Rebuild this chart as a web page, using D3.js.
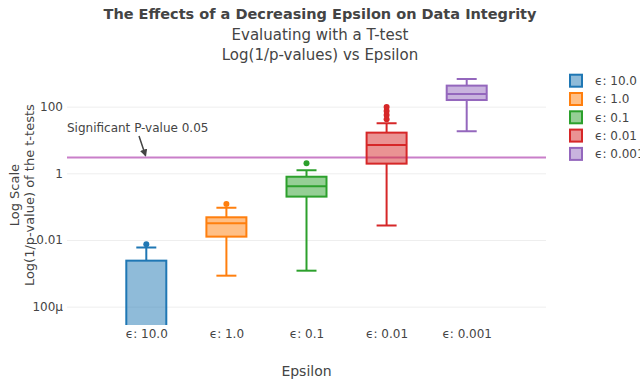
<!DOCTYPE html>
<html><head><meta charset="utf-8">
<script src="https://cdn.jsdelivr.net/npm/d3@7"></script>
<style>
html,body{margin:0;padding:0;background:#fff;}
svg text{font-family:Verdana,"DejaVu Sans",sans-serif;fill:#444;}
</style></head>
<body><svg id="c" width="640" height="384"></svg>
<script>
const categories = ["ϵ: 10.0","ϵ: 1.0","ϵ: 0.1","ϵ: 0.01","ϵ: 0.001"];
const lowerWhisker = [1e-12, 0.00085, 0.0012, 0.027, 18.3];
const q1 = [1e-8, 0.0126, 0.2, 1.95, 158];
const median = [1e-6, 0.032, 0.41, 7.1, 240];
const q3 = [0.0024, 0.048, 0.79, 16.6, 427];
const upperWhisker = [0.006, 0.093, 1.23, 31.6, 676];
const outliers = [[0.0075],[0.12],[2.0],[42,56,74,97],[]];
const colors = ["#1f77b4","#ff7f0e","#2ca02c","#d62728","#9467bd"];
const threshold = Math.log(1/0.05);
const yTickValues = [1e-4, 0.01, 1, 100];
const yTickLabels = ["100µ","0.01","1","100"];
const titleLines = ["The Effects of a Decreasing Epsilon on Data Integrity","Evaluating with a T-test","Log(1/p-values) vs Epsilon"];

const svg = d3.select("#c");
const L = 67, R = 546, T = 73.3, B = 325;
const x = d3.scalePoint().domain(categories).range([L, R]).padding(0.99);
const y = d3.scaleLog().domain([Math.pow(10,-4.55), 1000]).range([B, T]);

// grid
const yAxis = d3.axisLeft(y).tickValues(yTickValues).tickFormat((d,i)=>yTickLabels[i]).tickSize(-(R-L)).tickPadding(4);
const ga = svg.append("g").attr("transform",`translate(${L},0)`).call(yAxis);
ga.select(".domain").remove();
ga.selectAll(".tick line").attr("stroke","#eee").attr("stroke-width",1);
ga.selectAll(".tick text").attr("font-size",12).attr("fill","#444");

const xAxis = d3.axisBottom(x).tickSize(0).tickPadding(4);
const gx = svg.append("g").attr("transform",`translate(0,${B})`).call(xAxis);
gx.select(".domain").remove();
gx.selectAll(".tick text").attr("font-size",12).attr("fill","#444");

// clip
svg.append("clipPath").attr("id","clip").append("rect").attr("x",L).attr("y",T-10).attr("width",R-L).attr("height",B-T+10);
const plot = svg.append("g").attr("clip-path","url(#clip)");

// significance line
plot.append("line").attr("x1",L).attr("x2",R).attr("y1",y(threshold)).attr("y2",y(threshold))
  .attr("stroke","#c97fc9").attr("stroke-width",2);

const bw = 40;
categories.forEach((c,i)=>{
  const cx = x(c), col = colors[i];
  const g = plot.append("g");
  g.append("line").attr("x1",cx).attr("x2",cx).attr("y1",y(upperWhisker[i])).attr("y2",y(q3[i])).attr("stroke",col).attr("stroke-width",2);
  g.append("line").attr("x1",cx).attr("x2",cx).attr("y1",y(q1[i])).attr("y2",y(lowerWhisker[i])).attr("stroke",col).attr("stroke-width",2);
  g.append("line").attr("x1",cx-bw/4).attr("x2",cx+bw/4).attr("y1",y(upperWhisker[i])).attr("y2",y(upperWhisker[i])).attr("stroke",col).attr("stroke-width",2);
  g.append("line").attr("x1",cx-bw/4).attr("x2",cx+bw/4).attr("y1",y(lowerWhisker[i])).attr("y2",y(lowerWhisker[i])).attr("stroke",col).attr("stroke-width",2);
  const yTop = y(q3[i]), yBot = Math.min(y(q1[i]), B+20);
  g.append("rect").attr("x",cx-bw/2).attr("y",yTop).attr("width",bw).attr("height",yBot-yTop)
    .attr("fill",col).attr("fill-opacity",0.5).attr("stroke",col).attr("stroke-width",2);
  g.append("line").attr("x1",cx-bw/2).attr("x2",cx+bw/2).attr("y1",y(median[i])).attr("y2",y(median[i])).attr("stroke",col).attr("stroke-width",2);
  outliers[i].forEach(v=>{
    g.append("circle").attr("cx",cx).attr("cy",y(v)).attr("r",3).attr("fill",col);
  });
});

// annotation
svg.append("text").attr("x",L).attr("y",132).attr("font-size",12).text("Significant P-value 0.05");
svg.append("defs").append("marker").attr("id","ah").attr("viewBox","0 0 10 10").attr("refX",8).attr("refY",5)
  .attr("markerWidth",5).attr("markerHeight",5).attr("orient","auto")
  .append("path").attr("d","M0,0 L10,5 L0,10 z").attr("fill","#444");
svg.append("line").attr("x1",139).attr("y1",136).attr("x2",145.5).attr("y2",y(threshold)-2)
  .attr("stroke","#444").attr("stroke-width",1.5).attr("marker-end","url(#ah)");

// titles
svg.append("text").attr("x",320).attr("y",19).attr("text-anchor","middle").attr("font-size",14.5).attr("font-weight","bold").text(titleLines[0]);
svg.append("text").attr("x",320).attr("y",40).attr("text-anchor","middle").attr("font-size",15).text(titleLines[1]);
svg.append("text").attr("x",320).attr("y",60).attr("text-anchor","middle").attr("font-size",15).text(titleLines[2]);

// axis titles
svg.append("text").attr("x",(L+R)/2).attr("y",376).attr("text-anchor","middle").attr("font-size",14).text("Epsilon");
const yt = svg.append("text").attr("transform",`translate(14,${(T+B)/2 - 4}) rotate(-90)`).attr("text-anchor","middle").attr("font-size",13);
yt.append("tspan").attr("x",0).attr("dy","0.35em").text("Log Scale");
yt.append("tspan").attr("x",0).attr("dy","1.15em").text("Log(1/p-value) of the t-tests");

// legend
const lg = svg.append("g");
categories.forEach((c,i)=>{
  const cy = 80.7 + i*18.3;
  lg.append("rect").attr("x",570).attr("y",cy-6).attr("width",12).attr("height",12)
    .attr("fill",colors[i]).attr("fill-opacity",0.5).attr("stroke",colors[i]).attr("stroke-width",2);
  lg.append("text").attr("x",595).attr("y",cy).attr("dy","0.35em").attr("font-size",12).text(c);
});
</script></body></html>
